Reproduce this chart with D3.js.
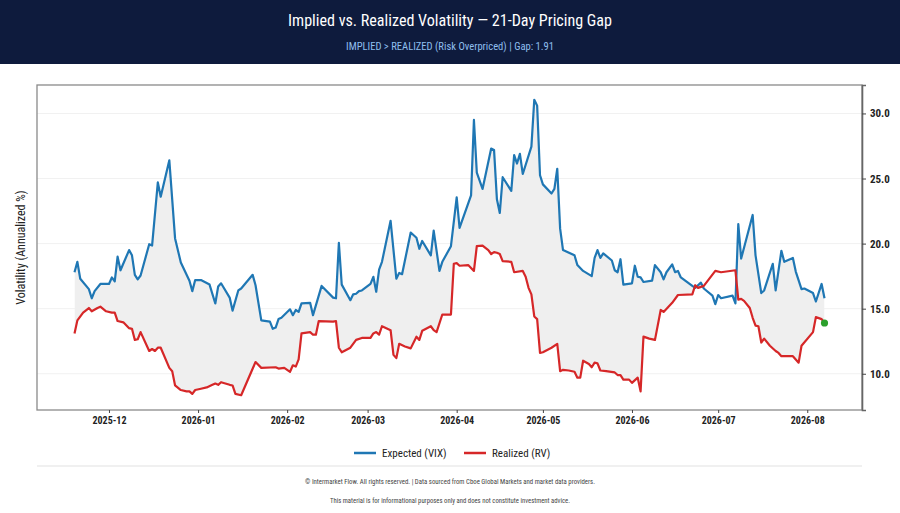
<!DOCTYPE html>
<meta charset="utf-8">
<script src="https://d3js.org/d3.v7.js"></script>
<style>
  body { margin: 0; background: #fff; }
  text { font-family: "Roboto Condensed", "Liberation Sans Narrow", "DejaVu Sans Condensed", Roboto, sans-serif; }
</style>
<div id="chart"></div>
<script>

// implied vol (VIX) series
const impliedDates = [
  "2025-11-19","2025-11-20","2025-11-21","2025-11-24","2025-11-25","2025-11-26","2025-11-28",
  "2025-12-01","2025-12-02","2025-12-03","2025-12-04","2025-12-05","2025-12-08","2025-12-09","2025-12-10",
  "2025-12-11","2025-12-12","2025-12-15","2025-12-16","2025-12-18","2025-12-19","2025-12-22","2025-12-24",
  "2025-12-26","2025-12-29","2025-12-30","2025-12-31",
  "2026-01-02","2026-01-05","2026-01-07","2026-01-08","2026-01-09","2026-01-12","2026-01-13","2026-01-15",
  "2026-01-16","2026-01-20","2026-01-21","2026-01-23","2026-01-26","2026-01-27","2026-01-28","2026-01-29","2026-01-30",
  "2026-02-02","2026-02-03","2026-02-04","2026-02-05","2026-02-06","2026-02-09","2026-02-10","2026-02-13",
  "2026-02-17","2026-02-18","2026-02-19","2026-02-20","2026-02-23","2026-02-24","2026-02-25","2026-02-26","2026-02-27",
  "2026-03-02","2026-03-03","2026-03-04","2026-03-05","2026-03-06","2026-03-09","2026-03-11","2026-03-12","2026-03-13",
  "2026-03-16","2026-03-18","2026-03-19","2026-03-20","2026-03-23","2026-03-24","2026-03-26","2026-03-27","2026-03-30",
  "2026-04-01","2026-04-02","2026-04-06","2026-04-07","2026-04-08","2026-04-10","2026-04-13","2026-04-14","2026-04-15",
  "2026-04-16","2026-04-17","2026-04-20","2026-04-21","2026-04-22","2026-04-23","2026-04-24","2026-04-27","2026-04-28",
  "2026-04-29","2026-04-30",
  "2026-05-01","2026-05-04","2026-05-05","2026-05-06","2026-05-07","2026-05-08","2026-05-12","2026-05-13","2026-05-15",
  "2026-05-18","2026-05-19","2026-05-20","2026-05-21","2026-05-22","2026-05-25","2026-05-26","2026-05-27","2026-05-28","2026-05-29",
  "2026-06-01","2026-06-02","2026-06-03","2026-06-04","2026-06-05","2026-06-08","2026-06-09","2026-06-11","2026-06-12",
  "2026-06-13","2026-06-15","2026-06-16","2026-06-17","2026-06-18","2026-06-22","2026-06-23","2026-06-25","2026-06-26",
  "2026-06-29","2026-06-30",
  "2026-07-01","2026-07-02","2026-07-06","2026-07-07","2026-07-08","2026-07-09","2026-07-13","2026-07-14","2026-07-16",
  "2026-07-17","2026-07-20","2026-07-21","2026-07-23","2026-07-24","2026-07-27","2026-07-28","2026-07-30","2026-07-31",
  "2026-08-03","2026-08-04","2026-08-06","2026-08-07"
];
const impliedVol = [
  17.8,18.6,17.3,16.5,15.8,16.35,16.9,
  16.9,17.4,17.1,19.0,17.95,19.5,19.1,17.6,
  17.25,17.55,19.95,19.85,24.7,23.6,26.4,20.4,
  18.55,17.15,16.35,17.2,
  17.2,16.85,15.4,16.7,16.95,15.85,14.85,16.4,
  16.55,17.6,16.8,14.1,14.0,13.45,13.55,14.2,14.3,
  14.95,14.5,14.9,14.75,15.4,15.45,14.5,16.75,
  15.85,15.8,20.05,16.85,15.65,16.1,16.15,16.35,16.4,
  16.9,17.45,16.3,18.0,18.6,21.75,17.3,17.75,17.65,
  20.85,20.45,19.6,20.2,19.1,21.0,17.9,18.6,19.8,
  23.55,21.2,23.7,29.5,25.45,24.2,27.3,27.2,23.4,
  22.35,25.1,24.05,26.8,26.15,26.9,25.35,27.45,31.05,
  30.6,25.25,
  24.55,23.85,24.2,25.75,21.15,19.5,19.1,18.35,17.9,
  17.5,18.9,19.5,18.9,19.25,18.7,17.95,17.8,18.8,16.85,
  16.95,18.3,17.45,17.4,17.05,17.15,18.35,17.8,17.25,
  17.8,18.4,17.8,17.9,17.4,16.75,16.6,17.0,16.55,
  16.0,15.35,
  16.05,15.8,16.0,15.4,21.5,18.85,22.2,19.1,16.2,
  16.4,18.45,16.4,19.45,18.6,18.9,17.85,16.5,16.55,
  16.2,15.55,16.9,15.8
];

// realized vol (RV) series
const realizedDates = [
  "2025-11-19","2025-11-20","2025-11-22","2025-11-24","2025-11-25","2025-11-27","2025-11-28","2025-11-30",
  "2025-12-02","2025-12-03","2025-12-04","2025-12-06","2025-12-08","2025-12-09","2025-12-10","2025-12-11",
  "2025-12-12","2025-12-15","2025-12-16","2025-12-17","2025-12-18","2025-12-19","2025-12-22","2025-12-23",
  "2025-12-24","2025-12-26","2025-12-28","2025-12-29","2025-12-30","2025-12-31",
  "2026-01-02","2026-01-04","2026-01-06","2026-01-07","2026-01-08","2026-01-09","2026-01-12","2026-01-13",
  "2026-01-14","2026-01-16","2026-01-21","2026-01-23","2026-01-28","2026-01-29","2026-01-31",
  "2026-02-02","2026-02-03","2026-02-04","2026-02-05","2026-02-06","2026-02-09","2026-02-10","2026-02-11",
  "2026-02-12","2026-02-17","2026-02-18","2026-02-19","2026-02-20","2026-02-23","2026-02-25","2026-02-27",
  "2026-03-02","2026-03-03","2026-03-04","2026-03-05","2026-03-06","2026-03-09","2026-03-10","2026-03-11",
  "2026-03-12","2026-03-14","2026-03-16","2026-03-18","2026-03-19","2026-03-20","2026-03-23","2026-03-24",
  "2026-03-25","2026-03-27","2026-03-30","2026-03-31",
  "2026-04-01","2026-04-02","2026-04-05","2026-04-07","2026-04-08","2026-04-10","2026-04-12","2026-04-13",
  "2026-04-14","2026-04-15","2026-04-16","2026-04-17","2026-04-20","2026-04-21","2026-04-24","2026-04-25",
  "2026-04-26","2026-04-27","2026-04-28","2026-04-29","2026-04-30",
  "2026-05-01","2026-05-04","2026-05-06","2026-05-07","2026-05-08","2026-05-10","2026-05-12","2026-05-13",
  "2026-05-14","2026-05-15","2026-05-17","2026-05-18","2026-05-19","2026-05-20","2026-05-21","2026-05-23",
  "2026-05-26","2026-05-27","2026-05-28","2026-05-29","2026-05-31",
  "2026-06-01","2026-06-03","2026-06-04","2026-06-05","2026-06-07","2026-06-09","2026-06-11","2026-06-12",
  "2026-06-15","2026-06-17","2026-06-22","2026-06-23","2026-06-24","2026-06-26","2026-06-30",
  "2026-07-02","2026-07-07","2026-07-08","2026-07-09","2026-07-10","2026-07-12","2026-07-13","2026-07-14",
  "2026-07-15","2026-07-16","2026-07-17","2026-07-19","2026-07-21","2026-07-22","2026-07-23","2026-07-27",
  "2026-07-29","2026-07-30",
  "2026-08-03","2026-08-04","2026-08-06","2026-08-07"
];
const realizedVol = [
  13.1,14.1,14.7,15.05,14.8,15.05,15.15,14.8,
  14.7,14.7,14.05,13.95,13.5,13.45,12.6,12.65,
  13.2,11.75,11.9,11.75,12.0,12.0,10.45,10.2,
  9.1,8.75,8.65,8.65,8.45,8.75,
  8.85,8.95,9.15,9.25,9.15,9.35,9.15,9.1,
  8.45,8.35,10.9,10.45,10.5,10.4,10.45,
  10.15,10.65,10.55,11.1,13.1,13.2,13.0,13.0,
  14.05,14.0,14.05,12.0,11.65,12.0,12.6,12.75,
  12.75,13.1,13.2,13.0,13.65,13.35,11.45,11.2,
  12.3,12.1,11.95,12.85,12.6,13.3,13.65,13.35,
  13.2,14.55,14.55,18.45,
  18.5,18.3,18.35,17.9,19.8,19.85,19.5,19.2,
  19.35,19.3,19.2,18.65,18.6,17.8,17.9,17.45,
  16.6,16.1,14.4,14.2,11.6,
  11.65,12.0,12.3,10.2,10.3,10.25,10.15,9.7,
  9.7,11.0,10.75,10.5,10.85,10.8,10.25,10.2,
  10.1,9.9,9.9,9.55,9.55,
  9.3,9.7,8.65,12.85,12.7,12.6,14.9,14.75,
  15.45,16.05,16.1,16.8,16.6,16.75,17.9,
  17.8,17.95,15.7,15.75,15.6,15.05,14.3,13.7,
  13.65,12.4,12.7,12.15,11.75,11.6,11.35,11.35,
  10.85,12.15,
  13.2,14.35,14.2,13.9
];

const yTickValues = [10, 15, 20, 25, 30];
const titleText = "Implied vs. Realized Volatility \u2014 21-Day Pricing Gap";
const subtitleText = "IMPLIED > REALIZED (Risk Overpriced) | Gap: 1.91";
const legendLabels = ["Expected (VIX)", "Realized (RV)"];

const W = 900, H = 513;
const margin = {top: 85, right: 38, bottom: 103, left: 37};
const parse = d3.timeParse("%Y-%m-%d");

const implied = impliedDates.map((d, i) => ({date: parse(d), v: impliedVol[i]}));
const realized = realizedDates.map((d, i) => ({date: parse(d), v: realizedVol[i]}));

const svg = d3.select("#chart").append("svg")
  .attr("width", W).attr("height", H);

// header band
svg.append("rect").attr("x", 0).attr("y", 0).attr("width", W).attr("height", 64)
  .attr("fill", "#0e1b3d");
svg.append("text").attr("x", W/2).attr("y", 26)
  .attr("text-anchor", "middle").attr("fill", "#fff")
  .style("font-size", "17px")
  .attr("textLength", 324).attr("lengthAdjust", "spacingAndGlyphs")
  .text(titleText);
svg.append("text").attr("x", W/2).attr("y", 50)
  .attr("text-anchor", "middle").attr("fill", "#8fbfee")
  .style("font-size", "11px")
  .attr("textLength", 208).attr("lengthAdjust", "spacingAndGlyphs")
  .text(subtitleText);

// scales (5% padding like matplotlib)
const allDates = implied.map(d => d.date).concat(realized.map(d => d.date));
const allVals = impliedVol.concat(realizedVol);
const [d0, d1] = d3.extent(allDates);
const dPad = (d1 - d0) * 0.05;
const [v0, v1] = d3.extent(allVals);
const vPad = (v1 - v0) * 0.05;

const x = d3.scaleTime()
  .domain([new Date(+d0 - dPad), new Date(+d1 + dPad)])
  .range([margin.left, W - margin.right]);
const y = d3.scaleLinear()
  .domain([v0 - vPad, v1 + vPad])
  .range([H - margin.bottom, margin.top]);

const plotTop = margin.top, plotBottom = H - margin.bottom;

// grid
svg.append("g").selectAll("line").data(yTickValues).join("line")
  .attr("x1", margin.left).attr("x2", W - margin.right)
  .attr("y1", d => y(d)).attr("y2", d => y(d))
  .attr("stroke", "#f1f1f1").attr("stroke-width", 1);

// fill between, only where implied is above realized
const clip = svg.append("clipPath").attr("id", "aboveRealized");
clip.append("path").datum(realized)
  .attr("d", d3.area().x(d => x(d.date)).y0(plotTop).y1(d => y(d.v)));

svg.append("path").datum(implied)
  .attr("clip-path", "url(#aboveRealized)")
  .attr("fill", "#efefef")
  .attr("d", d3.area().x(d => x(d.date)).y0(plotBottom).y1(d => y(d.v)));

// lines
const line = d3.line().x(d => x(d.date)).y(d => y(d.v));
svg.append("path").datum(implied)
  .attr("fill", "none").attr("stroke", "#1f77b4").attr("stroke-width", 2.2)
  .attr("stroke-linejoin", "round").attr("d", line);
svg.append("path").datum(realized)
  .attr("fill", "none").attr("stroke", "#d62728").attr("stroke-width", 2.2)
  .attr("stroke-linejoin", "round").attr("d", line);

// last realized point
const last = realized[realized.length - 1];
svg.append("circle").attr("cx", x(last.date)).attr("cy", y(last.v))
  .attr("r", 3.6).attr("fill", "#2ca02c");

// frame
svg.append("rect")
  .attr("x", margin.left).attr("y", plotTop)
  .attr("width", W - margin.left - margin.right).attr("height", plotBottom - plotTop)
  .attr("fill", "none").attr("stroke", "#8a8a8a").attr("stroke-width", 1.3);

// right axis
const yAxis = svg.append("g")
  .attr("transform", `translate(${W - margin.right},0)`)
  .call(d3.axisRight(y).tickValues(yTickValues).tickFormat(d3.format(".1f")).tickSize(4).tickPadding(4));
yAxis.select(".domain").attr("stroke", "#666").attr("stroke-width", 1.6);
yAxis.selectAll(".tick line").attr("stroke", "#444");
yAxis.selectAll("text").attr("fill", "#222").style("font-size", "11px").style("font-weight", "bold");

// bottom axis
const xAxis = svg.append("g")
  .attr("transform", `translate(0,${plotBottom})`)
  .call(d3.axisBottom(x).ticks(d3.timeMonth.every(1)).tickFormat(d3.timeFormat("%Y-%m")).tickSize(3).tickPadding(4));
xAxis.select(".domain").remove();
xAxis.selectAll(".tick line").attr("stroke", "#444");
xAxis.selectAll("text").attr("fill", "#222").style("font-size", "10px").style("font-weight", "bold");

// y label
svg.append("text")
  .attr("transform", `translate(25,${(plotTop + plotBottom) / 2}) rotate(-90)`)
  .attr("text-anchor", "middle").attr("fill", "#222")
  .style("font-size", "12px")
  .text("Volatility (Annualized %)");

// legend
const legend = svg.append("g");
const legendItems = [
  {label: legendLabels[0], color: "#1f77b4", x: 354},
  {label: legendLabels[1], color: "#d62728", x: 464}
];
legendItems.forEach(it => {
  legend.append("line").attr("x1", it.x).attr("x2", it.x + 22)
    .attr("y1", 453).attr("y2", 453).attr("stroke", it.color).attr("stroke-width", 2.5);
  legend.append("text").attr("x", it.x + 28).attr("y", 457)
    .attr("fill", "#222").style("font-size", "11px").text(it.label);
});

// footer
svg.append("line").attr("x1", margin.left).attr("x2", W - margin.right)
  .attr("y1", 466).attr("y2", 466).attr("stroke", "#f0f0f0").attr("stroke-width", 2);
svg.append("text").attr("x", W/2).attr("y", 484).attr("text-anchor", "middle")
  .attr("fill", "#444").style("font-size", "7px")
  .attr("textLength", 290).attr("lengthAdjust", "spacingAndGlyphs")
  .text("\u00a9 Intermarket Flow. All rights reserved.  |  Data sourced from Cboe Global Markets and market data providers.");
svg.append("text").attr("x", W/2).attr("y", 503).attr("text-anchor", "middle")
  .attr("fill", "#444").style("font-size", "7px")
  .attr("textLength", 240).attr("lengthAdjust", "spacingAndGlyphs")
  .text("This material is for informational purposes only and does not constitute investment advice.");

</script>
